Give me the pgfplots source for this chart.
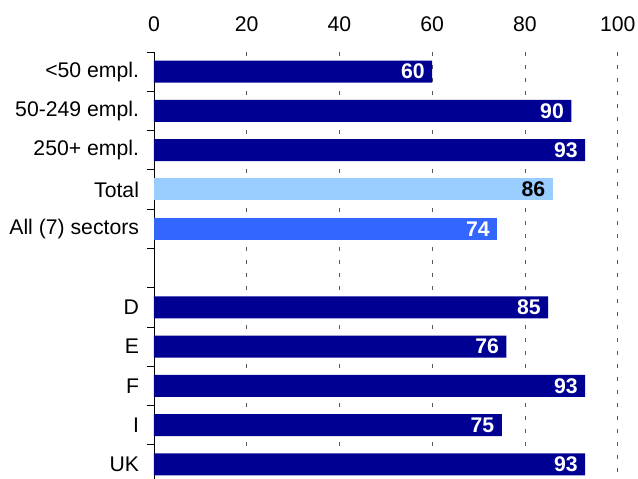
\documentclass[border=0pt]{standalone}
\usepackage{pgfplots}
\pgfplotsset{compat=1.18}
\usepackage{fontspec}
\setmainfont{Liberation Sans}
\definecolor{navy}{RGB}{0,0,146}
\definecolor{totalblue}{RGB}{153,204,255}
\definecolor{allblue}{RGB}{51,102,255}
\definecolor{gridgray}{RGB}{90,90,90}
\begin{document}
\begin{tikzpicture}
\useasboundingbox (-154bp,52bp) rectangle (484bp,-427bp);
\begin{axis}[
  at={(0,0)}, anchor=north west,
  scale only axis,
  width=463.7bp, height=427bp,
  xmin=0, xmax=100,
  ymin=-0.5, ymax=10.37,
  y dir=reverse,
  axis x line*=top,
  axis y line*=left,
  x axis line style={draw=none},
  axis line style={-, black, line width=0.8bp},
  xtick={0,20,40,60,80,100},
  ytick={0,1,2,3,4,6,7,8,9,10},
  yticklabels={{<50 empl.},{50-249 empl.},{250+ empl.},Total,{All (7) sectors},D,E,F,I,UK},
  minor ytick={-0.5,0.5,...,10.5},
  major tick length=0pt,
  minor tick length=7bp,
  tick align=outside,
  minor tick style={black, line width=0.8bp},
  xmajorgrids,
  major grid style={gridgray, line width=0.8bp, dash pattern=on 4bp off 9bp},
  tick label style={font=\fontsize{21.2bp}{24bp}\selectfont},
  /pgf/number format/assume math mode=true,
  xticklabel style={yshift=16.5bp},
  yticklabel style={xshift=-11.5bp},
  xbar, bar width=22bp, bar shift=0pt,
  nodes near coords,
  every node near coord/.append style={anchor=east, xshift=-4bp,
    font=\fontsize{21.2bp}{24bp}\selectfont\bfseries, text=white},
]
\addplot[fill=navy, draw=none] coordinates {
  (60,0) (90,1) (93,2) (85,6) (76,7) (93,8) (75,9) (93,10)};
\addplot[fill=totalblue, draw=none,
  every node near coord/.append style={text=black}] coordinates {(86,3)};
\addplot[fill=allblue, draw=none] coordinates {(74,4)};
\end{axis}
\end{tikzpicture}
\end{document}
